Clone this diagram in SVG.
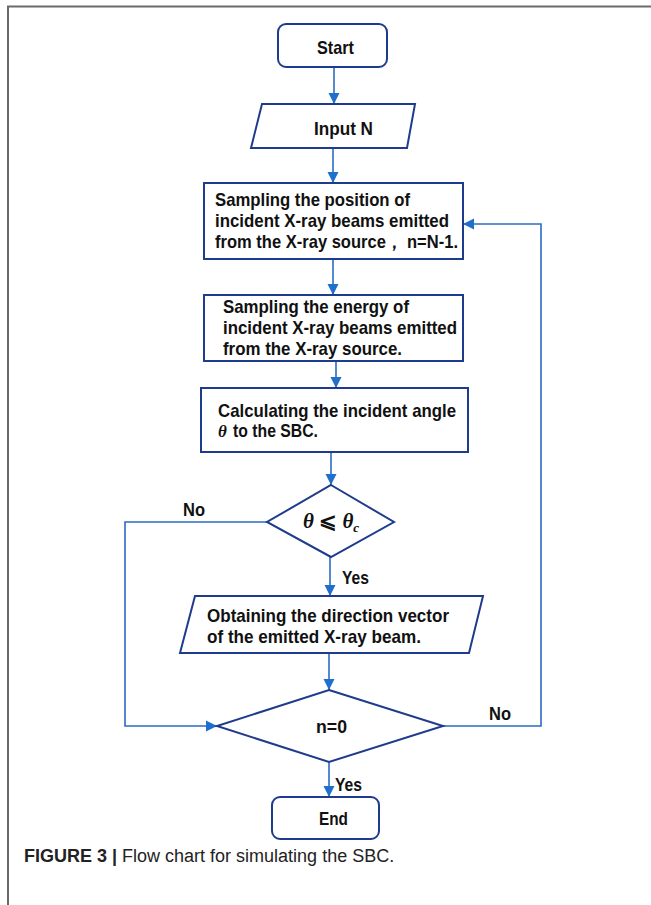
<svg xmlns="http://www.w3.org/2000/svg" width="651" height="905" viewBox="0 0 651 905">
<defs>
<marker id="ah" markerUnits="userSpaceOnUse" markerWidth="12" markerHeight="12" refX="11" refY="6" orient="auto">
<path d="M0,0.5 L11,6 L0,11.5 z" fill="#1f6fcc"/>
</marker>
<style>
.node{fill:#fff;stroke:#1f3b8c;stroke-width:2}
.t{font-family:"Liberation Sans",Arial,sans-serif;font-weight:bold;font-size:19px;fill:#111}
.c{text-anchor:middle}
.conn{fill:none;stroke:#2a6cc4;stroke-width:1.6}
.m{font-family:"Liberation Serif","Times New Roman",serif;font-style:italic;font-weight:bold;fill:#111}
.cap{font-family:"Liberation Sans",Arial,sans-serif;font-size:18px;fill:#222}
</style>
</defs>
<rect width="651" height="905" fill="#fff"/>
<path d="M8,905 V6.5 H651" fill="none" stroke="#6a6a6a" stroke-width="2"/>

<g id="connectors">
<line class="conn" x1="334" y1="67" x2="334" y2="104" marker-end="url(#ah)"/>
<line class="conn" x1="333" y1="148" x2="333" y2="183" marker-end="url(#ah)"/>
<line class="conn" x1="333" y1="259" x2="333" y2="295" marker-end="url(#ah)"/>
<line class="conn" x1="336" y1="361" x2="336" y2="388" marker-end="url(#ah)"/>
<line class="conn" x1="331" y1="452" x2="331" y2="485" marker-end="url(#ah)"/>
<line class="conn" x1="330" y1="557" x2="330" y2="596" marker-end="url(#ah)"/>
<line class="conn" x1="329" y1="653" x2="329" y2="690" marker-end="url(#ah)"/>
<line class="conn" x1="329" y1="762" x2="329" y2="797" marker-end="url(#ah)"/>
<polyline class="conn" points="267,522 125,522 125,726 217,726" marker-end="url(#ah)"/>
<polyline class="conn" points="443,726 541,726 541,224 463,224" marker-end="url(#ah)"/>
<text class="t" x="183" y="516" textLength="22" lengthAdjust="spacingAndGlyphs">No</text>
<text class="t" x="342" y="584" textLength="27" lengthAdjust="spacingAndGlyphs">Yes</text>
<text class="t" x="489" y="720" textLength="22" lengthAdjust="spacingAndGlyphs">No</text>
<text class="t" x="335" y="791" textLength="27" lengthAdjust="spacingAndGlyphs">Yes</text>
</g>

<g id="start">
<rect class="node" x="278" y="24" width="109" height="43" rx="8"/>
<text class="t" x="317" y="54" textLength="37" lengthAdjust="spacingAndGlyphs">Start</text>
</g>

<g id="input">
<polygon class="node" points="262,104 415,104 407,148 251,148"/>
<text class="t" x="314" y="135" textLength="59" lengthAdjust="spacingAndGlyphs">Input N</text>
</g>

<g id="sample-position">
<rect class="node" x="204" y="183" width="259" height="76"/>
<text class="t" x="215" y="206" textLength="195" lengthAdjust="spacingAndGlyphs">Sampling the position of</text>
<text class="t" x="215" y="227" textLength="234" lengthAdjust="spacingAndGlyphs">incident X-ray beams emitted</text>
<text class="t" x="215" y="248" textLength="243" lengthAdjust="spacingAndGlyphs" font-family="'Liberation Sans','Noto Sans CJK SC',sans-serif">from the X-ray source，  n=N-1.</text>
</g>

<g id="sample-energy">
<rect class="node" x="204" y="295" width="259" height="66"/>
<text class="t" x="223" y="313" textLength="186" lengthAdjust="spacingAndGlyphs">Sampling the energy of</text>
<text class="t" x="223" y="334" textLength="234" lengthAdjust="spacingAndGlyphs">incident X-ray beams emitted</text>
<text class="t" x="223" y="355" textLength="179" lengthAdjust="spacingAndGlyphs">from the X-ray source.</text>
</g>

<g id="calc-angle">
<rect class="node" x="201" y="388" width="267" height="64"/>
<text class="t" x="218" y="417" textLength="238" lengthAdjust="spacingAndGlyphs">Calculating the incident angle</text>
<text class="m" x="218" y="437" font-size="17">θ</text>
<text class="t" x="233" y="437" textLength="85" lengthAdjust="spacingAndGlyphs">to the SBC.</text>
</g>

<g id="decision-angle">
<polygon class="node" points="331,485 394,522 331,557 267,522"/>
<text class="m" x="303" y="528" font-size="21">θ <tspan font-style="normal">⩽</tspan> θ<tspan font-size="13" dy="4">c</tspan></text>
</g>

<g id="direction">
<polygon class="node" points="195,596 483,596 469,653 180,653"/>
<text class="t" x="207" y="622" textLength="242" lengthAdjust="spacingAndGlyphs">Obtaining the direction vector</text>
<text class="t" x="207" y="643" textLength="214" lengthAdjust="spacingAndGlyphs">of the emitted X-ray beam.</text>
</g>

<g id="decision-n">
<polygon class="node" points="329,690 443,726 329,762 217,726"/>
<text class="t" x="316" y="733" textLength="31" lengthAdjust="spacingAndGlyphs">n=0</text>
</g>

<g id="end">
<rect class="node" x="272" y="797" width="107" height="42" rx="8"/>
<text class="t" x="319" y="825" textLength="29" lengthAdjust="spacingAndGlyphs">End</text>
</g>

<text class="cap" x="24" y="862"><tspan font-weight="bold">FIGURE 3 |</tspan> Flow chart for simulating the SBC.</text>
</svg>
